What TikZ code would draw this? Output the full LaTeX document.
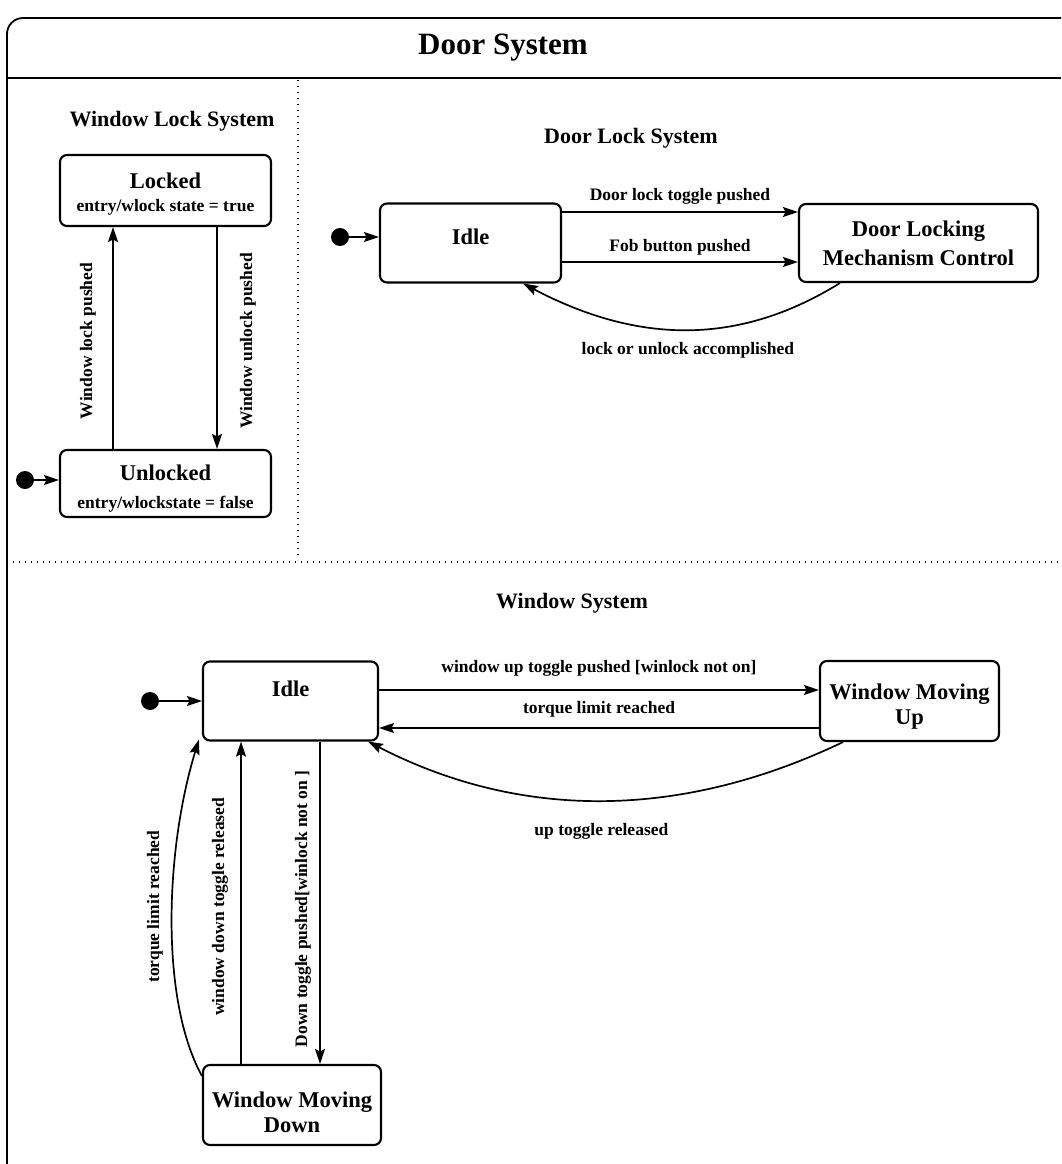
\documentclass[tikz,border=0pt]{standalone}
\usepackage{fontspec}
\setmainfont{Liberation Serif}
\usetikzlibrary{arrows.meta,calc}
\begin{document}
\begin{tikzpicture}[x=1pt,y=-1pt,
  stbox/.style={draw, line width=2.1pt, rounded corners=7pt, align=center,
    inner sep=0pt, font=\bfseries\fontsize{22.5}{25}\selectfont},
  entrybox/.style={stbox, font=\bfseries\fontsize{17.5}{22}\selectfont},
  tr/.style={line width=1.7pt, -{Stealth[length=15pt,width=10pt,inset=2.5pt]}},
  lbl/.style={font=\bfseries\fontsize{17.5}{20}\selectfont, inner sep=0pt},
  sect/.style={font=\bfseries\fontsize{22}{24}\selectfont, inner sep=0pt},
  init/.style={circle, fill, minimum size=18pt, inner sep=0pt},
  part/.style={line width=1.4pt, dash pattern=on 1.4pt off 4.6pt},
]
\useasboundingbox (0,0) rectangle (1061,1164);
\fill[white] (0,0) rectangle (1061,1164);

% outer frame of the composite state and its title compartment
\draw[line width=1.8pt, rounded corners=16pt] (7,1164) -- (7,18) -- (1061,18);
\draw[line width=1.8pt] (7,78) -- (1061,78);
\node[font=\bfseries\fontsize{31}{33}\selectfont] (title) at (503,48) {Door System};

% concurrent region separators
\draw[part] (298,80) -- (298,560);
\draw[part] (7,562) -- (1061,562);

% ---------- Window Lock System ----------
\node[sect] (wls) at (172,121) {Window Lock System};
\node[entrybox, minimum width=211pt, minimum height=71pt] (locked) at (165.5,190.5)
  {\rule{0pt}{22pt}{\fontsize{22.5}{25}\selectfont Locked}\\[1pt]entry/wlock state = true};
\node[entrybox, minimum width=211pt, minimum height=67pt] (unlocked) at (165.5,483.5)
  {\rule{0pt}{26pt}{\fontsize{22.5}{25}\selectfont Unlocked}\\[6pt]entry/wlockstate = false};
\node[init] (wl0) at (25,480) {};
\draw[tr] (wl0) -- (wl0 -| unlocked.west);
\draw[tr] ([xshift=-52.5pt]unlocked.north) -- ([xshift=-52.5pt]locked.south)
  node[lbl, midway, xshift=-25pt, yshift=-3pt, rotate=90] {Window lock pushed};
\draw[tr] ([xshift=51.5pt]locked.south) -- ([xshift=51.5pt]unlocked.north)
  node[lbl, midway, xshift=31pt, yshift=-3pt, rotate=90] {Window unlock pushed};

% ---------- Door Lock System ----------
\node[sect] (dls) at (631,138) {Door Lock System};
\node[stbox, minimum width=181pt, minimum height=79pt] (didle) at (470.5,243) {\raisebox{12pt}{Idle}};
\node[stbox, minimum width=239pt, minimum height=78pt] (dlm) at (918.5,243)
  {Door Locking\\[4pt]Mechanism Control};
\node[init] (dl0) at (340,237) {};
\draw[tr] (dl0) -- (dl0 -| didle.west);
\draw[tr] ([yshift=31pt]didle.east) -- ([yshift=31pt]dlm.west)
  node[lbl, midway, above=7pt] {Door lock toggle pushed};
\draw[tr] ([yshift=-19pt]didle.east) -- ([yshift=-19pt]dlm.west)
  node[lbl, midway, above=6pt] {Fob button pushed};
\draw[tr] ([xshift=-78.5pt]dlm.south) .. controls (740,345) and (640,345) ..
  ([xshift=-39pt]didle.south east)
  node[lbl, pos=0.5, below=12pt] {lock or unlock accomplished};

% ---------- Window System ----------
\node[sect] (wss) at (572,603) {Window System};
\node[stbox, minimum width=175pt, minimum height=79pt] (widle) at (290.5,701) {\raisebox{24pt}{Idle}};
\node[stbox, minimum width=179pt, minimum height=80pt] (wup) at (909.5,701)
  {\rule{0pt}{26pt}Window Moving\\Up};
\node[stbox, minimum width=178pt, minimum height=80pt] (wdown) at (292,1105)
  {\rule{0pt}{30pt}Window Moving\\Down};
\node[init] (ws0) at (150,701) {};
\draw[tr] (ws0) -- (ws0 -| widle.west);
\draw[tr] ([yshift=11pt]widle.east) -- ([yshift=11pt]wup.west)
  node[lbl, midway, above=13pt] {window up toggle pushed [winlock not on]};
\draw[tr] ([yshift=-27pt]wup.west) -- ([yshift=-27pt]widle.east)
  node[lbl, midway, above=10pt] {torque limit reached};
\draw[tr] ([xshift=-66.5pt]wup.south) .. controls (680,820) and (520,820) ..
  ([xshift=-11pt]widle.south east)
  node[lbl, pos=0.5, below=22pt] {up toggle released};
\draw[tr] ([yshift=-12pt]wdown.north west) .. controls (160,1000) and (165,850) ..
  ([xshift=-3pt,yshift=2pt]widle.south west)
  node[lbl, pos=0.5, xshift=-17pt, yshift=14pt, rotate=90] {torque limit reached};
\draw[tr] ([xshift=-51pt]wdown.north) -- ([xshift=-51pt]wdown.north |- widle.south)
  node[lbl, midway, xshift=-21pt, yshift=-4pt, rotate=90] {window down toggle released};
\draw[tr] ([xshift=28pt]wdown.north |- widle.south) -- ([xshift=28pt]wdown.north)
  node[lbl, midway, xshift=-17pt, yshift=-6pt, rotate=90] {Down toggle pushed[winlock not on ]};
\end{tikzpicture}
\end{document}
